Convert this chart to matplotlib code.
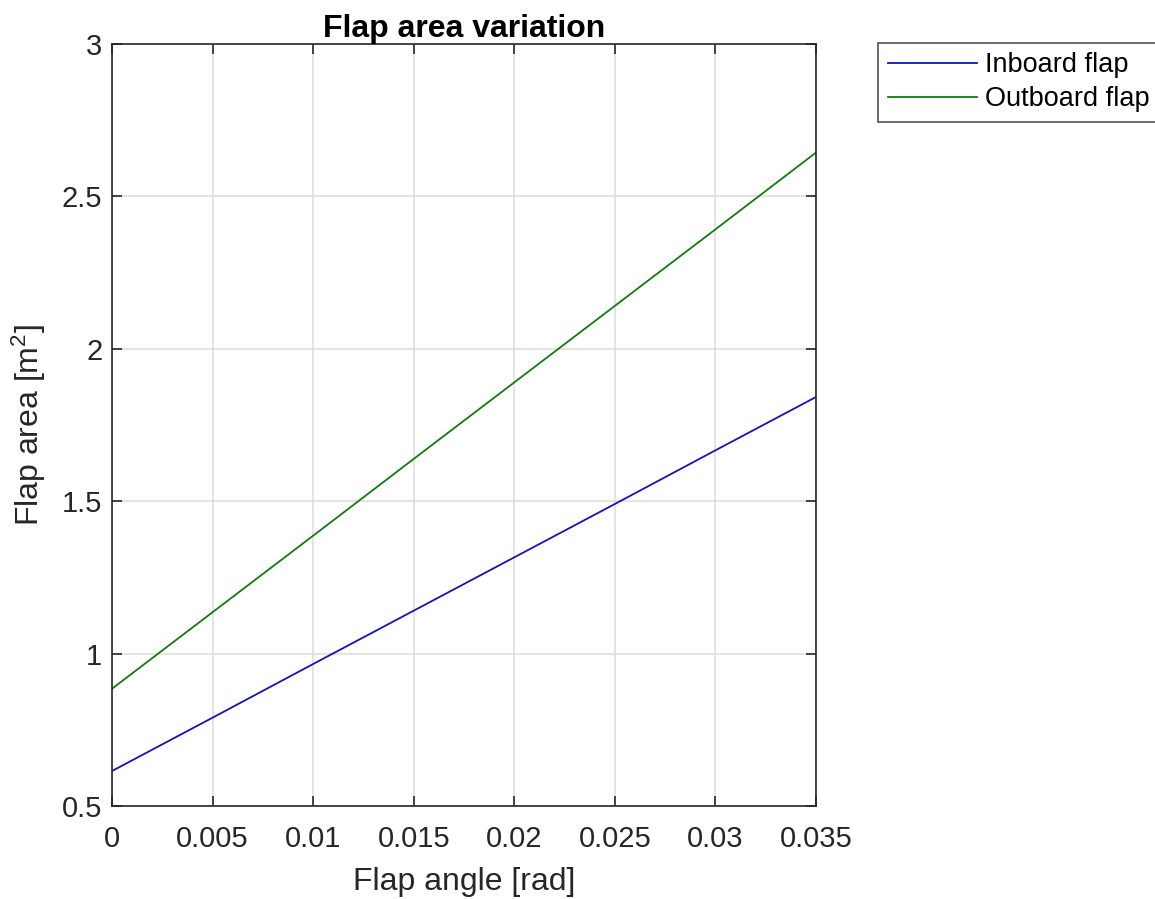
import matplotlib
matplotlib.use("Agg")
import matplotlib.pyplot as plt
from matplotlib.ticker import FixedLocator, FuncFormatter

plt.rcParams['font.family'] = ['Liberation Sans', 'DejaVu Sans']
plt.rcParams['mathtext.fontset'] = 'custom'
plt.rcParams['mathtext.rm'] = 'Liberation Sans'
plt.rcParams['mathtext.it'] = 'Liberation Sans'

# Flap deflection angle [rad] and corresponding flap area [m^2]
flap_angle = [0.0, 0.005, 0.010, 0.015, 0.020, 0.025, 0.030, 0.035]
inboard_area = [0.615, 0.790, 0.966, 1.141, 1.316, 1.491, 1.667, 1.842]
outboard_area = [0.885, 1.136, 1.387, 1.639, 1.890, 2.141, 2.392, 2.644]

x_ticks = [0, 0.005, 0.01, 0.015, 0.02, 0.025, 0.03, 0.035]
y_ticks = [0.5, 1, 1.5, 2, 2.5, 3]

fig = plt.figure(figsize=(11.55, 8.99), dpi=100)
ax = fig.add_axes([0.097, 0.1034, 0.6095, 0.8476])

ax.plot(flap_angle, inboard_area, color='#1414b4', lw=1.3, label='Inboard flap')
ax.plot(flap_angle, outboard_area, color='#117a11', lw=1.3, label='Outboard flap')

ax.set_xlim(0, 0.035)
ax.set_ylim(0.5, 3)
ax.xaxis.set_major_locator(FixedLocator(x_ticks))
ax.yaxis.set_major_locator(FixedLocator(y_ticks))
ax.xaxis.set_major_formatter(FuncFormatter(lambda v, p: f"{v:g}"))
ax.yaxis.set_major_formatter(FuncFormatter(lambda v, p: f"{v:g}"))

ax.tick_params(direction='in', length=7, width=1.2, labelsize=21, colors='#262626',
               top=True, right=True)
ax.tick_params(axis='x', pad=14)
ax.tick_params(axis='y', pad=7)
ax.grid(True, color='#dcdcdc', lw=1.1)
ax.set_axisbelow(True)
for s in ax.spines.values():
    s.set_color('#262626')
    s.set_linewidth(1.2)

ax.set_xlabel('Flap angle [rad]', fontsize=23, color='#262626', labelpad=10)
ax.set_ylabel(r'Flap area [m$^{2}$]', fontsize=23, color='#262626', labelpad=10)
ax.set_title('Flap area variation', fontsize=23, fontweight='bold', pad=5)

leg = ax.legend(loc='upper left', bbox_to_anchor=(1.0885, 1.002), fontsize=19.5,
                frameon=True, fancybox=False, edgecolor='#262626',
                handlelength=3.3, handletextpad=0.3, borderpad=0.35,
                labelspacing=0.3, borderaxespad=0)
leg.get_frame().set_linewidth(1.2)
for line in leg.get_lines():
    line.set_linewidth(1.3)

fig.savefig('out.png', dpi=100, facecolor='white')
